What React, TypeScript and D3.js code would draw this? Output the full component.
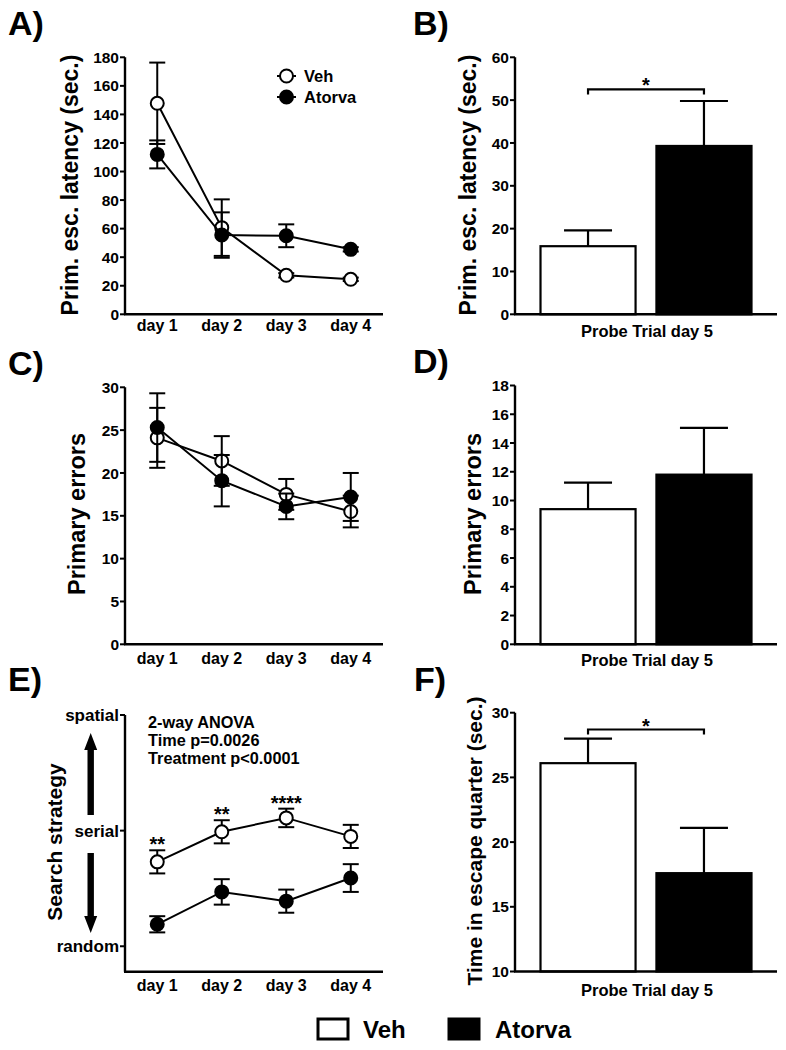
import React from 'react';
import * as d3 from 'd3';

const days = ['day 1', 'day 2', 'day 3', 'day 4'];
const groups = ['Veh', 'Atorva'];

const latencyVeh = [147.8, 60.7, 27.3, 24.5];
const latencyVehErr = [28.5, 19.8, 1.5, 1.2];
const latencyAtorva = [112.0, 55.5, 55.0, 45.5];
const latencyAtorvaErr = [9.8, 15.9, 8.0, 1.5];
const latencyTicks = [0, 20, 40, 60, 80, 100, 120, 140, 160, 180];

const probeLatency = [15.9, 39.3];
const probeLatencyErr = [3.7, 10.5];
const probeLatencyTicks = [0, 10, 20, 30, 40, 50, 60];

const errorsVeh = [24.1, 21.4, 17.5, 15.5];
const errorsVehErr = [3.5, 2.9, 1.8, 1.85];
const errorsAtorva = [25.3, 19.1, 16.1, 17.2];
const errorsAtorvaErr = [4.0, 3.0, 1.5, 2.8];
const errorsTicks = [0, 5, 10, 15, 20, 25, 30];

const probeErrors = [9.4, 11.8];
const probeErrorsErr = [1.85, 3.25];
const probeErrorsTicks = [0, 2, 4, 6, 8, 10, 12, 14, 16, 18];

const strategyVeh = [0.73, 0.99, 1.11, 0.95];
const strategyVehErr = [0.1, 0.1, 0.08, 0.1];
const strategyAtorva = [0.19, 0.47, 0.39, 0.59];
const strategyAtorvaErr = [0.07, 0.11, 0.1, 0.12];
const strategyStars = ['**', '**', '****', ''];
const strategyTickLabels = ['random', 'serial', 'spatial'];
const strategyTickValues = [0, 1, 2];

const quarterTime = [26.1, 17.6];
const quarterTimeErr = [1.9, 3.5];
const quarterTicks = [10, 15, 20, 25, 30];

const anovaLines = ['2-way ANOVA', 'Time p=0.0026', 'Treatment p<0.0001'];

const FONT = "'Liberation Sans', Arial, Helvetica, sans-serif";
const SW = 2;

type Series = { name: string; values: number[]; errs: number[]; filled: boolean };

function YAxis({ x, scale, ticks, labels, fontSize, top, bottom }: any) {
  return (
    <g>
      <line x1={x} x2={x} y1={top} y2={bottom} stroke="#000" strokeWidth={2.4} />
      {ticks.map((t: number, i: number) => (
        <g key={i}>
          <line x1={x - 5} x2={x} y1={scale(t)} y2={scale(t)} stroke="#000" strokeWidth={2} />
          <text x={x - 6} y={scale(t)} dy="0.36em" textAnchor="end" fontSize={fontSize} fontWeight="bold" fontFamily={FONT}>
            {labels ? labels[i] : String(t)}
          </text>
        </g>
      ))}
    </g>
  );
}

function VLabel({ x, y, text, size }: any) {
  return (
    <text transform={`translate(${x},${y}) rotate(-90)`} textAnchor="middle" fontSize={size} fontWeight="bold" fontFamily={FONT}>
      {text}
    </text>
  );
}

function PanelLetter({ x, y, t }: any) {
  return (
    <text x={x} y={y} fontSize={34} fontWeight="bold" fontFamily={FONT}>{t}</text>
  );
}

function LineSeries({ xScale, yScale, s, capW }: any) {
  const line = d3.line<number>().x((_, i) => xScale(days[i])).y((d) => yScale(d));
  return (
    <g>
      {s.values.map((v: number, i: number) => {
        const cx = xScale(days[i]);
        const hi = yScale(v + s.errs[i]);
        const lo = yScale(v - s.errs[i]);
        return (
          <g key={'e' + i} stroke="#000" strokeWidth={SW}>
            <line x1={cx} x2={cx} y1={hi} y2={lo} />
            <line x1={cx - capW} x2={cx + capW} y1={hi} y2={hi} />
            <line x1={cx - capW} x2={cx + capW} y1={lo} y2={lo} />
          </g>
        );
      })}
      <path d={line(s.values) || ''} fill="none" stroke="#000" strokeWidth={SW} />
      {s.values.map((v: number, i: number) => (
        <circle key={'c' + i} cx={xScale(days[i])} cy={yScale(v)} r={6.5} fill={s.filled ? '#000' : '#fff'} stroke="#000" strokeWidth={SW} />
      ))}
    </g>
  );
}

function LinePanel({ yScale, top, bottom, ticks, tickLabels, tickFont, series, dayBaseline }: any) {
  const xScale = d3.scalePoint<string>().domain(days).range([125, 383]).padding(0.5);
  return (
    <g>
      <YAxis x={125} scale={yScale} ticks={ticks} labels={tickLabels} fontSize={tickFont} top={top} bottom={bottom} />
      <line x1={124} x2={383} y1={bottom} y2={bottom} stroke="#000" strokeWidth={2.4} />
      {days.map((d) => (
        <text key={d} x={xScale(d)} y={dayBaseline} textAnchor="middle" fontSize={16} fontWeight="bold" fontFamily={FONT}>{d}</text>
      ))}
      {series.map((s: Series) => (
        <LineSeries key={s.name} xScale={xScale} yScale={yScale} s={s} capW={8} />
      ))}
    </g>
  );
}

function BarPanel({ yScale, ticks, values, errs, probeBaseline, bracket }: any) {
  const xBand = d3.scaleBand<string>().domain(groups).range([515, 777]).paddingInner(0.18).paddingOuter(0.22);
  const [d0, d1] = yScale.domain();
  const base = yScale(d0);
  const top = yScale(d1);
  const cx = (g: string) => (xBand(g) as number) + xBand.bandwidth() / 2;
  return (
    <g>
      {groups.map((g, i) => {
        const yTop = yScale(values[i]);
        const yErr = yScale(values[i] + errs[i]);
        return (
          <g key={g}>
            <line x1={cx(g)} x2={cx(g)} y1={yTop} y2={yErr} stroke="#000" strokeWidth={2.2} />
            <line x1={cx(g) - 24} x2={cx(g) + 24} y1={yErr} y2={yErr} stroke="#000" strokeWidth={2.2} />
            <rect x={xBand(g)} y={yTop} width={xBand.bandwidth()} height={base - yTop} fill={i === 0 ? '#fff' : '#000'} stroke="#000" strokeWidth={2.2} />
          </g>
        );
      })}
      <YAxis x={515} scale={yScale} ticks={ticks} fontSize={15.5} top={top} bottom={base} />
      <line x1={514} x2={777} y1={base} y2={base} stroke="#000" strokeWidth={2.4} />
      <text x={647} y={probeBaseline} textAnchor="middle" fontSize={16.5} fontWeight="bold" fontFamily={FONT}>Probe Trial day 5</text>
      {bracket !== undefined && (
        <g>
          <path
            d={`M${cx(groups[0])},${yScale(bracket) + 5}V${yScale(bracket)}H${cx(groups[1])}V${yScale(bracket) + 5}`}
            fill="none" stroke="#000" strokeWidth={2.2}
          />
          <text x={(cx(groups[0]) + cx(groups[1])) / 2} y={yScale(bracket) + 3} textAnchor="middle" fontSize={20} fontWeight="bold" fontFamily={FONT}>*</text>
        </g>
      )}
    </g>
  );
}

function Arrow({ x, y1, y2 }: any) {
  const dir = y2 < y1 ? -1 : 1;
  const headLen = 17;
  const headHalf = 6.5;
  const shaftHalf = 3.2;
  const yh = y2 - dir * headLen;
  const d = `M${x - shaftHalf},${y1}L${x - shaftHalf},${yh}L${x - headHalf},${yh}L${x},${y2}L${x + headHalf},${yh}L${x + shaftHalf},${yh}L${x + shaftHalf},${y1}Z`;
  return <path d={d} fill="#000" />;
}

export default function App() {
  const yA = d3.scaleLinear().domain([0, 180]).range([314.3, 57.3]);
  const yB = d3.scaleLinear().domain([0, 60]).range([314.3, 57.3]);
  const yC = d3.scaleLinear().domain([0, 30]).range([644.3, 387.3]);
  const yD = d3.scaleLinear().domain([0, 18]).range([644.3, 385.5]);
  const yE = d3.scaleLinear().domain([-0.22, 2]).range([971.7, 715]);
  const yF = d3.scaleLinear().domain([10, 30]).range([971.5, 712.7]);
  const xE = d3.scalePoint<string>().domain(days).range([125, 383]).padding(0.5);

  const seriesA: Series[] = [
    { name: 'Veh', values: latencyVeh, errs: latencyVehErr, filled: false },
    { name: 'Atorva', values: latencyAtorva, errs: latencyAtorvaErr, filled: true },
  ];
  const seriesC: Series[] = [
    { name: 'Veh', values: errorsVeh, errs: errorsVehErr, filled: false },
    { name: 'Atorva', values: errorsAtorva, errs: errorsAtorvaErr, filled: true },
  ];
  const seriesE: Series[] = [
    { name: 'Veh', values: strategyVeh, errs: strategyVehErr, filled: false },
    { name: 'Atorva', values: strategyAtorva, errs: strategyAtorvaErr, filled: true },
  ];

  return (
    <svg width={786} height={1050} style={{ position: 'absolute', left: 0, top: 0, background: '#fff' }} fontFamily={FONT}>
      <rect width={786} height={1050} fill="#fff" />
      {/* A */}
      <PanelLetter x={8} y={35} t="A)" />
      <VLabel x={78} y={185} text="Prim. esc. latency (sec.)" size={23} />
      <LinePanel yScale={yA} top={57.3} bottom={314.3} ticks={latencyTicks} tickFont={15.5} series={seriesA} dayBaseline={331} />
      {groups.map((g, i) => (
        <g key={g}>
          <line x1={277} x2={296} y1={76 + i * 21} y2={76 + i * 21} stroke="#000" strokeWidth={SW} />
          <circle cx={286.5} cy={76 + i * 21} r={6.5} fill={i === 0 ? '#fff' : '#000'} stroke="#000" strokeWidth={SW} />
          <text x={304} y={76 + i * 21} dy="0.36em" fontSize={16.5} fontWeight="bold" fontFamily={FONT}>{g}</text>
        </g>
      ))}

      {/* B */}
      <PanelLetter x={413} y={35} t="B)" />
      <VLabel x={476} y={185} text="Prim. esc. latency (sec.)" size={23} />
      <BarPanel yScale={yB} ticks={probeLatencyTicks} values={probeLatency} errs={probeLatencyErr} probeBaseline={337} bracket={52.5} />

      {/* C */}
      <PanelLetter x={8} y={375} t="C)" />
      <VLabel x={85} y={514} text="Primary errors" size={23.5} />
      <LinePanel yScale={yC} top={387.3} bottom={644.3} ticks={errorsTicks} tickFont={15.5} series={seriesC} dayBaseline={664} />

      {/* D */}
      <PanelLetter x={413} y={373} t="D)" />
      <VLabel x={481} y={514} text="Primary errors" size={23.5} />
      <BarPanel yScale={yD} ticks={probeErrorsTicks} values={probeErrors} errs={probeErrorsErr} probeBaseline={666} />

      {/* E */}
      <PanelLetter x={8} y={691} t="E)" />
      <VLabel x={62} y={842} text="Search strategy" size={21} />
      <Arrow x={90.7} y1={815} y2={733} />
      <Arrow x={90.7} y1={853} y2={933} />
      <LinePanel yScale={yE} top={715} bottom={971.7} ticks={strategyTickValues} tickLabels={strategyTickLabels} tickFont={17} series={seriesE} dayBaseline={991} />
      {anovaLines.map((t, i) => (
        <text key={t} x={148} y={728 + i * 18} fontSize={16.3} fontWeight="bold" fontFamily={FONT}>{t}</text>
      ))}
      {strategyStars.map((s, i) => (
        <text key={'s' + i} x={xE(days[i])} y={yE(strategyVeh[i] + strategyVehErr[i]) + 1} textAnchor="middle" fontSize={20} fontWeight="bold" fontFamily={FONT}>{s}</text>
      ))}

      {/* F */}
      <PanelLetter x={414} y={691} t="F)" />
      <VLabel x={482} y={841} text="Time in escape quarter (sec.)" size={21} />
      <BarPanel yScale={yF} ticks={quarterTicks} values={quarterTime} errs={quarterTimeErr} probeBaseline={996} bracket={28.7} />

      {/* bottom legend */}
      {groups.map((g, i) => (
        <g key={'lg' + g}>
          <rect x={318 + i * 131} y={1019} width={30} height={20} fill={i === 0 ? '#fff' : '#000'} stroke="#000" strokeWidth={3} />
          <text x={363 + i * 132} y={1029} dy="0.36em" fontSize={24} fontWeight="bold" fontFamily={FONT}>{g}</text>
        </g>
      ))}
    </svg>
  );
}
